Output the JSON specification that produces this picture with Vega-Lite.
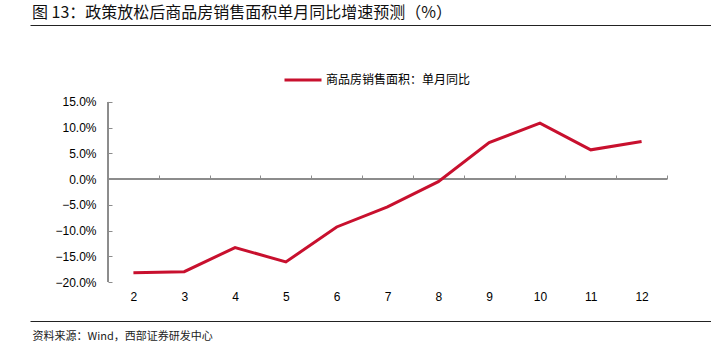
{
  "$schema": "https://vega.github.io/schema/vega-lite/v6.json",
  "width": 681,
  "height": 296,
  "autosize": {"type": "none"},
  "padding": {"left": 30, "top": 25, "right": 0, "bottom": 30},
  "background": "white",
  "config": {"view": {"stroke": null}},
  "title": {
    "text": "图 13：政策放松后商品房销售面积单月同比增速预测（%）",
    "anchor": "start",
    "frame": "group",
    "font": "Noto Sans CJK SC",
    "fontSize": 16,
    "fontWeight": "normal",
    "color": "#111111",
    "offset": 4,
    "dx": 2
  },
  "data": {
    "values": [
      {"month": 2, "value": -18.2, "series": "商品房销售面积：单月同比"},
      {"month": 3, "value": -18.0, "series": "商品房销售面积：单月同比"},
      {"month": 4, "value": -13.3, "series": "商品房销售面积：单月同比"},
      {"month": 5, "value": -16.1, "series": "商品房销售面积：单月同比"},
      {"month": 6, "value": -9.3, "series": "商品房销售面积：单月同比"},
      {"month": 7, "value": -5.4, "series": "商品房销售面积：单月同比"},
      {"month": 8, "value": -0.5, "series": "商品房销售面积：单月同比"},
      {"month": 9, "value": 7.1, "series": "商品房销售面积：单月同比"},
      {"month": 10, "value": 10.9, "series": "商品房销售面积：单月同比"},
      {"month": 11, "value": 5.7, "series": "商品房销售面积：单月同比"},
      {"month": 12, "value": 7.3, "series": "商品房销售面积：单月同比"}
    ]
  },
  "layer": [
    {
      "mark": {"type": "rule", "color": "#8c8c8c", "strokeWidth": 1},
      "encoding": {
        "x": {
          "datum": 1.5,
          "type": "quantitative",
          "axis": {
            "orient": "top",
            "offset": -154,
            "values": [1.5, 2.5, 3.5, 4.5, 5.5, 6.5, 7.5, 8.5, 9.5, 10.5, 11.5, 12.5],
            "domain": false,
            "labels": false,
            "ticks": true,
            "tickSize": 4,
            "tickColor": "#8c8c8c",
            "grid": false,
            "title": null
          }
        },
        "x2": {"datum": 12.5},
        "y": {
          "datum": 0,
          "type": "quantitative",
          "axis": {
            "orient": "right",
            "values": [-27.55, 29.94],
            "domain": false,
            "labels": false,
            "ticks": false,
            "grid": true,
            "gridColor": "#222222",
            "gridWidth": 1,
            "gridOpacity": 1,
            "title": null
          }
        }
      }
    },
    {
      "mark": {"type": "rule", "color": "#8c8c8c", "strokeWidth": 1},
      "encoding": {
        "x": {"datum": 1.5, "type": "quantitative", "axis": null},
        "y": {"datum": -20, "type": "quantitative", "axis": null},
        "y2": {"datum": 15}
      }
    },
    {
      "mark": {"type": "line", "strokeWidth": 3},
      "encoding": {
        "x": {
          "field": "month",
          "type": "quantitative",
          "scale": {"domain": [-0.035, 13.366], "nice": false, "zero": false},
          "axis": {
            "orient": "bottom",
            "offset": -39,
            "values": [2, 3, 4, 5, 6, 7, 8, 9, 10, 11, 12],
            "domain": false,
            "ticks": false,
            "grid": false,
            "labelPadding": 9,
            "labelFont": "Liberation Sans",
            "labelFontSize": 12,
            "labelColor": "#000000",
            "title": "资料来源：Wind，西部证券研发中心",
            "titleFont": "Noto Sans CJK SC",
            "titleFontSize": 11,
            "titleFontWeight": "normal",
            "titleColor": "#222222",
            "titleX": 2,
            "titleY": 54,
            "titleAlign": "left",
            "titleBaseline": "middle",
            "titleAnchor": null
          }
        },
        "y": {
          "field": "value",
          "type": "quantitative",
          "scale": {"domain": [-27.58, 29.97], "nice": false, "zero": false},
          "axis": {
            "orient": "left",
            "offset": -78,
            "values": [-20, -15, -10, -5, 0, 5, 10, 15],
            "domain": false,
            "grid": false,
            "ticks": true,
            "tickSize": -4,
            "tickColor": "#8c8c8c",
            "labelPadding": 16,
            "labelFont": "Liberation Sans",
            "labelFontSize": 12,
            "labelColor": "#000000",
            "labelExpr": "format(datum.value, '.1f') + '%'",
            "title": null
          }
        },
        "color": {
          "field": "series",
          "type": "nominal",
          "scale": {"range": ["#C8102E"]},
          "legend": {
            "orient": "none",
            "legendX": 253,
            "legendY": 35,
            "title": null,
            "direction": "horizontal",
            "symbolType": "stroke",
            "symbolSize": 1369,
            "symbolStrokeWidth": 3,
            "labelOffset": 3,
            "labelFont": "Noto Sans CJK SC",
            "labelFontSize": 12,
            "labelColor": "#000000"
          }
        }
      }
    }
  ],
  "resolve": {"axis": {"x": "independent", "y": "independent"}}
}
